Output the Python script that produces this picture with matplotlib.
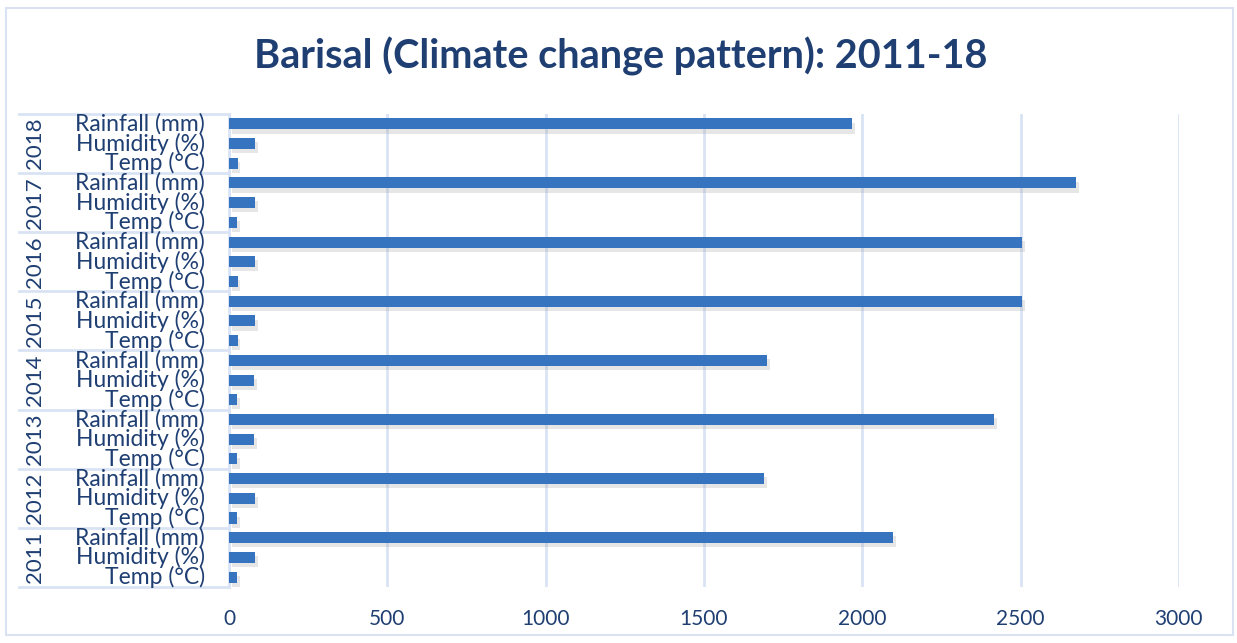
import matplotlib
matplotlib.use("Agg")
from matplotlib import pyplot as plt
from matplotlib import patheffects
from matplotlib.transforms import blended_transform_factory
from matplotlib.lines import Line2D
from matplotlib.patches import Rectangle
import numpy as np

years = ['2011', '2012', '2013', '2014', '2015', '2016', '2017', '2018']
metrics = ['Temp (°C)', 'Humidity (%)', 'Rainfall (mm)']
temp = [26, 26, 26, 26, 27, 27, 25, 27]
humidity = [82, 82, 80, 79, 82, 82, 82, 82]
rainfall = [2098, 1690, 2417, 1700, 2505, 2505, 2676, 1968]
xticks = [0, 500, 1000, 1500, 2000, 2500, 3000]

text_c = '#1F3F73'
grid_c = '#D9E3F3'
bar_c = '#3774C0'

plt.rcParams['font.family'] = ['Lato', 'DejaVu Sans']

fig = plt.figure(figsize=(12.37, 6.43), dpi=100)
ax = fig.add_axes([0.1851, 0.0871, 0.953 - 0.1851, 0.8227 - 0.0871])

vals = []
for i in range(len(years)):
    vals += [temp[i], humidity[i], rainfall[i]]
ypos = np.arange(len(vals))

shadow = [patheffects.SimplePatchShadow(offset=(2, -3), shadow_rgbFace='#909090', alpha=0.22),
          patheffects.Normal()]
bars = ax.barh(ypos, vals, height=0.56, color=bar_c, zorder=3)
for b in bars:
    b.set_path_effects(shadow)

ax.set_xlim(0, 3000)
ax.set_ylim(-0.5, len(vals) - 0.5)
ax.set_xticks(xticks)
ax.set_xticklabels([str(t) for t in xticks], fontsize=15, color=text_c)
ax.tick_params(axis='x', length=0, pad=16)
ax.set_yticks([])
ax.grid(axis='x', color=grid_c, linewidth=2, zorder=0)
for s in ['top', 'right', 'bottom']:
    ax.spines[s].set_visible(False)
ax.spines['left'].set_color(grid_c)
ax.spines['left'].set_linewidth(2)

# two level category labels
tr = blended_transform_factory(fig.transFigure, ax.transData)
for k, y in enumerate(ypos):
    ax.text(205 / 1237, y, metrics[k % 3], transform=tr, ha='right', va='center',
            fontsize=16.5, color=text_c, clip_on=False)
for i, yr in enumerate(years):
    ax.text(35 / 1237, 3 * i + 1, yr, transform=tr, ha='center', va='center',
            rotation=90, fontsize=16, color=text_c, clip_on=False)
for j in range(len(years) + 1):
    yb = 3 * j - 0.5
    fig.add_artist(Line2D([19 / 1237, 229 / 1237], [yb, yb], transform=tr,
                          color=grid_c, linewidth=2, zorder=-1))

fig.suptitle('Barisal (Climate change pattern): 2011-18', x=0.502, y=0.912, va='center',
             fontsize=28.5, fontweight='bold', color=text_c)

fig.add_artist(Rectangle((6 / 1237, 8 / 643), 1227 / 1237, 627 / 643,
                         transform=fig.transFigure, fill=False,
                         edgecolor=grid_c, linewidth=1.5))

fig.savefig('out.png', dpi=100)
